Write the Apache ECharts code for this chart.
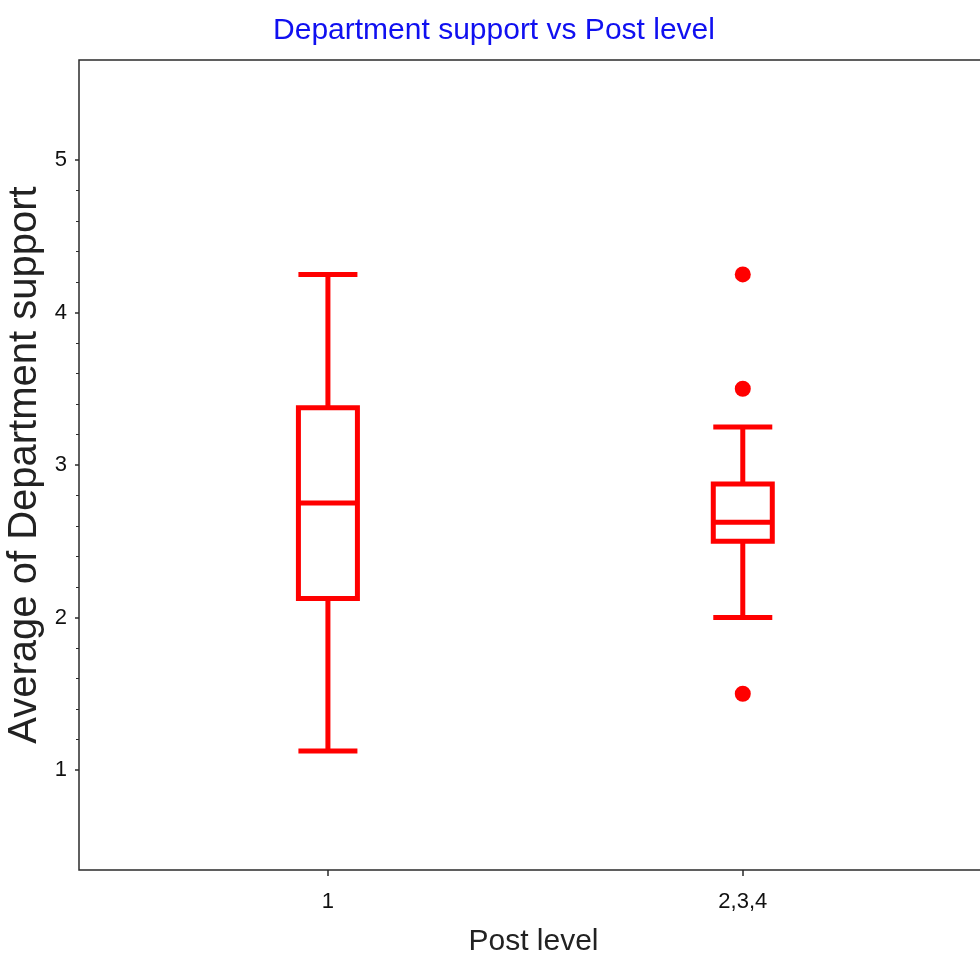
<!DOCTYPE html>
<html>
<head>
<meta charset="utf-8">
<script src="https://cdn.jsdelivr.net/npm/echarts@6/dist/echarts.min.js"></script>
<style>html,body{margin:0;padding:0;background:#fff;}#c{width:980px;height:966px;}</style>
</head>
<body>
<div id="c"></div>
<script>
// Data
const groups = ['1', '2,3,4'];
const groupPos = [1, 2];
const whiskerLow = [1.125, 2.0];
const q1 = [2.125, 2.5];
const median = [2.75, 2.625];
const q3 = [3.375, 2.875];
const whiskerHigh = [4.25, 3.25];
const outlierGroup = [1, 1, 1];
const outlierValues = [4.25, 3.5, 1.5];
const yMajorTicks = [1, 2, 3, 4, 5];
const yMinorTicks = [1.2, 1.4, 1.6, 1.8, 2.2, 2.4, 2.6, 2.8, 3.2, 3.4, 3.6, 3.8, 4.2, 4.4, 4.6, 4.8];

const RED = '#ff0000';
const AXIS = '#2b2b2b';
const REG = "'Liberation Sans', Arial, sans-serif";

const boxData = groups.map((g, i) => [groupPos[i], whiskerLow[i], q1[i], median[i], q3[i], whiskerHigh[i]]);
const outData = outlierValues.map((v, i) => [groupPos[outlierGroup[i]], v]);

const chart = echarts.init(document.getElementById('c'), null, {renderer: 'canvas'});
chart.setOption({
  backgroundColor: '#fff',
  animation: false,
  title: {
    text: 'Department support vs Post level',
    left: 489, textAlign: 'center', top: 11,
    textStyle: {color: '#1010f0', fontSize: 30, fontWeight: 'normal', fontFamily: REG}
  },
  grid: {left: 79, top: 60, right: -20, bottom: 96, outerBoundsMode: 'none', containLabel: false,
         show: true, borderColor: AXIS, borderWidth: 1.5, backgroundColor: 'transparent'},
  xAxis: {
    type: 'value', min: 0.4, max: 2.62,
    name: 'Post level', nameLocation: 'middle', nameGap: 57, nameMoveOverlap: false,
    nameTextStyle: {fontSize: 30, color: '#222', fontFamily: REG, padding: [0, 12, 0, 0]},
    axisLine: {show: false},
    splitLine: {show: false},
    axisTick: {show: true, customValues: groupPos, length: 6, lineStyle: {color: AXIS, width: 1.5}},
    axisLabel: {
      customValues: groupPos, margin: 21, fontSize: 22, color: '#111', fontFamily: REG,
      formatter: v => groups[groupPos.indexOf(v)] || ''
    }
  },
  yAxis: [{
    type: 'value', min: 0.344, max: 5.656,
    name: 'Average of Department support', nameLocation: 'middle', nameGap: 34, nameRotate: 90,
    nameMoveOverlap: false,
    nameTextStyle: {fontSize: 40, color: '#222', fontFamily: REG, padding: [14, 0, 0, 0]},
    axisLine: {show: false},
    splitLine: {show: false},
    axisTick: {show: true, customValues: yMajorTicks, length: 4, lineStyle: {color: AXIS, width: 1.5}},
    axisLabel: {customValues: yMajorTicks, margin: 12, fontSize: 22, color: '#111', fontFamily: REG}
  }, {
    type: 'value', min: 0.344, max: 5.656, position: 'left',
    axisLine: {show: false}, splitLine: {show: false},
    axisTick: {show: true, customValues: yMinorTicks, length: 3, lineStyle: {color: AXIS, width: 1}},
    axisLabel: {show: false}
  }],
  series: [{
    type: 'boxplot',
    data: boxData,
    boxWidth: [59, 59],
    itemStyle: {color: 'transparent', borderColor: RED, borderWidth: 5},
    emphasis: {disabled: true}
  }, {
    type: 'scatter',
    data: outData,
    symbol: 'circle', symbolSize: 16,
    itemStyle: {color: RED, opacity: 1},
    emphasis: {disabled: true}
  }]
});
</script>
</body>
</html>
